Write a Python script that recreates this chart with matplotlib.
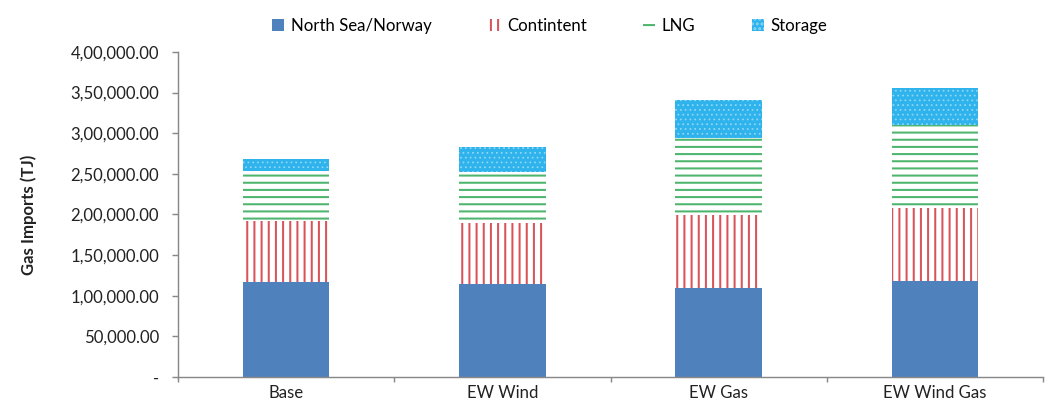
import matplotlib
matplotlib.use("Agg")
import matplotlib.pyplot as plt
from matplotlib.ticker import FuncFormatter, FixedLocator
import numpy as np

categories = ["Base", "EW Wind", "EW Gas", "EW Wind Gas"]
north_sea = [117300, 114500, 109000, 118000]
continent = [74700, 74500, 90400, 89600]
lng = [62000, 63700, 94400, 102400]
storage = [14000, 30700, 47200, 45300]
series_names = ["North Sea/Norway", "Contintent", "LNG", "Storage"]
y_ticks = [0, 50000, 100000, 150000, 200000, 250000, 300000, 350000, 400000]

DPI = 86
plt.rcParams['font.family'] = ['Lato', 'DejaVu Sans']
plt.rcParams['hatch.linewidth'] = 1.7

fig = plt.figure(figsize=(1051 / DPI, 417 / DPI), dpi=DPI)
ax = fig.add_axes([0.1694, 0.096, 0.9924 - 0.1694, 0.7793])

x = np.arange(len(categories))
w = 0.40
b1 = np.array(north_sea)
b2 = b1 + np.array(continent)
b3 = b2 + np.array(lng)

ax.bar(x, north_sea, w, color="#4F81BD", edgecolor="#4F81BD", linewidth=0,
       label=series_names[0])
ax.bar(x, continent, w, bottom=b1, facecolor="white", edgecolor="#D9545A",
       hatch="||", linewidth=0, label=series_names[1])
ax.bar(x, lng, w, bottom=b2, facecolor="white", edgecolor="#4DB56E",
       hatch="--", linewidth=0, label=series_names[2])
with plt.rc_context({'hatch.linewidth': 0.8}):
    ax.bar(x, storage, w, bottom=b3, facecolor="#2FB3EC", edgecolor="#8FD6F5",
           hatch="...", linewidth=0, label=series_names[3])

ax.set_xlim(-0.5, len(categories) - 0.5)
ax.set_ylim(0, 400000)


def indian(v, pos=None):
    if v == 0:
        return "-"
    iv = int(round(v))
    s = str(iv)
    last3 = s[-3:]
    rest = s[:-3]
    parts = []
    while len(rest) > 2:
        parts.insert(0, rest[-2:])
        rest = rest[:-2]
    if rest:
        parts.insert(0, rest)
    out = ",".join(parts + [last3]) if parts else last3
    return out + ".00"


FS = 14
ax.yaxis.set_major_locator(FixedLocator(y_ticks))
ax.yaxis.set_major_formatter(FuncFormatter(indian))
ax.set_xticks(x)
ax.set_xticklabels(categories)
ax.set_xticks(np.arange(-0.5, len(categories)), minor=True)
ax.tick_params(axis="x", which="major", length=0, pad=7, labelsize=FS, colors="#222222")
ax.tick_params(axis="x", which="minor", length=4, width=1.2, color="#888888")
ax.tick_params(axis="y", length=5, width=1.2, color="#888888", labelsize=FS,
               labelcolor="#222222", pad=11)

for s in ["top", "right"]:
    ax.spines[s].set_visible(False)
for s in ["left", "bottom"]:
    ax.spines[s].set_color("#888888")
    ax.spines[s].set_linewidth(1.2)

ax.set_ylabel("Gas Imports (TJ)", fontsize=FS, fontweight="bold", color="#222222", labelpad=28)

leg = ax.legend(loc="center", bbox_to_anchor=(0.43, 1.08), ncol=4, frameon=False,
                fontsize=FS, handlelength=0.7, handleheight=0.7, columnspacing=3.4,
                handletextpad=0.4)

fig.savefig("out.png", dpi=DPI)
